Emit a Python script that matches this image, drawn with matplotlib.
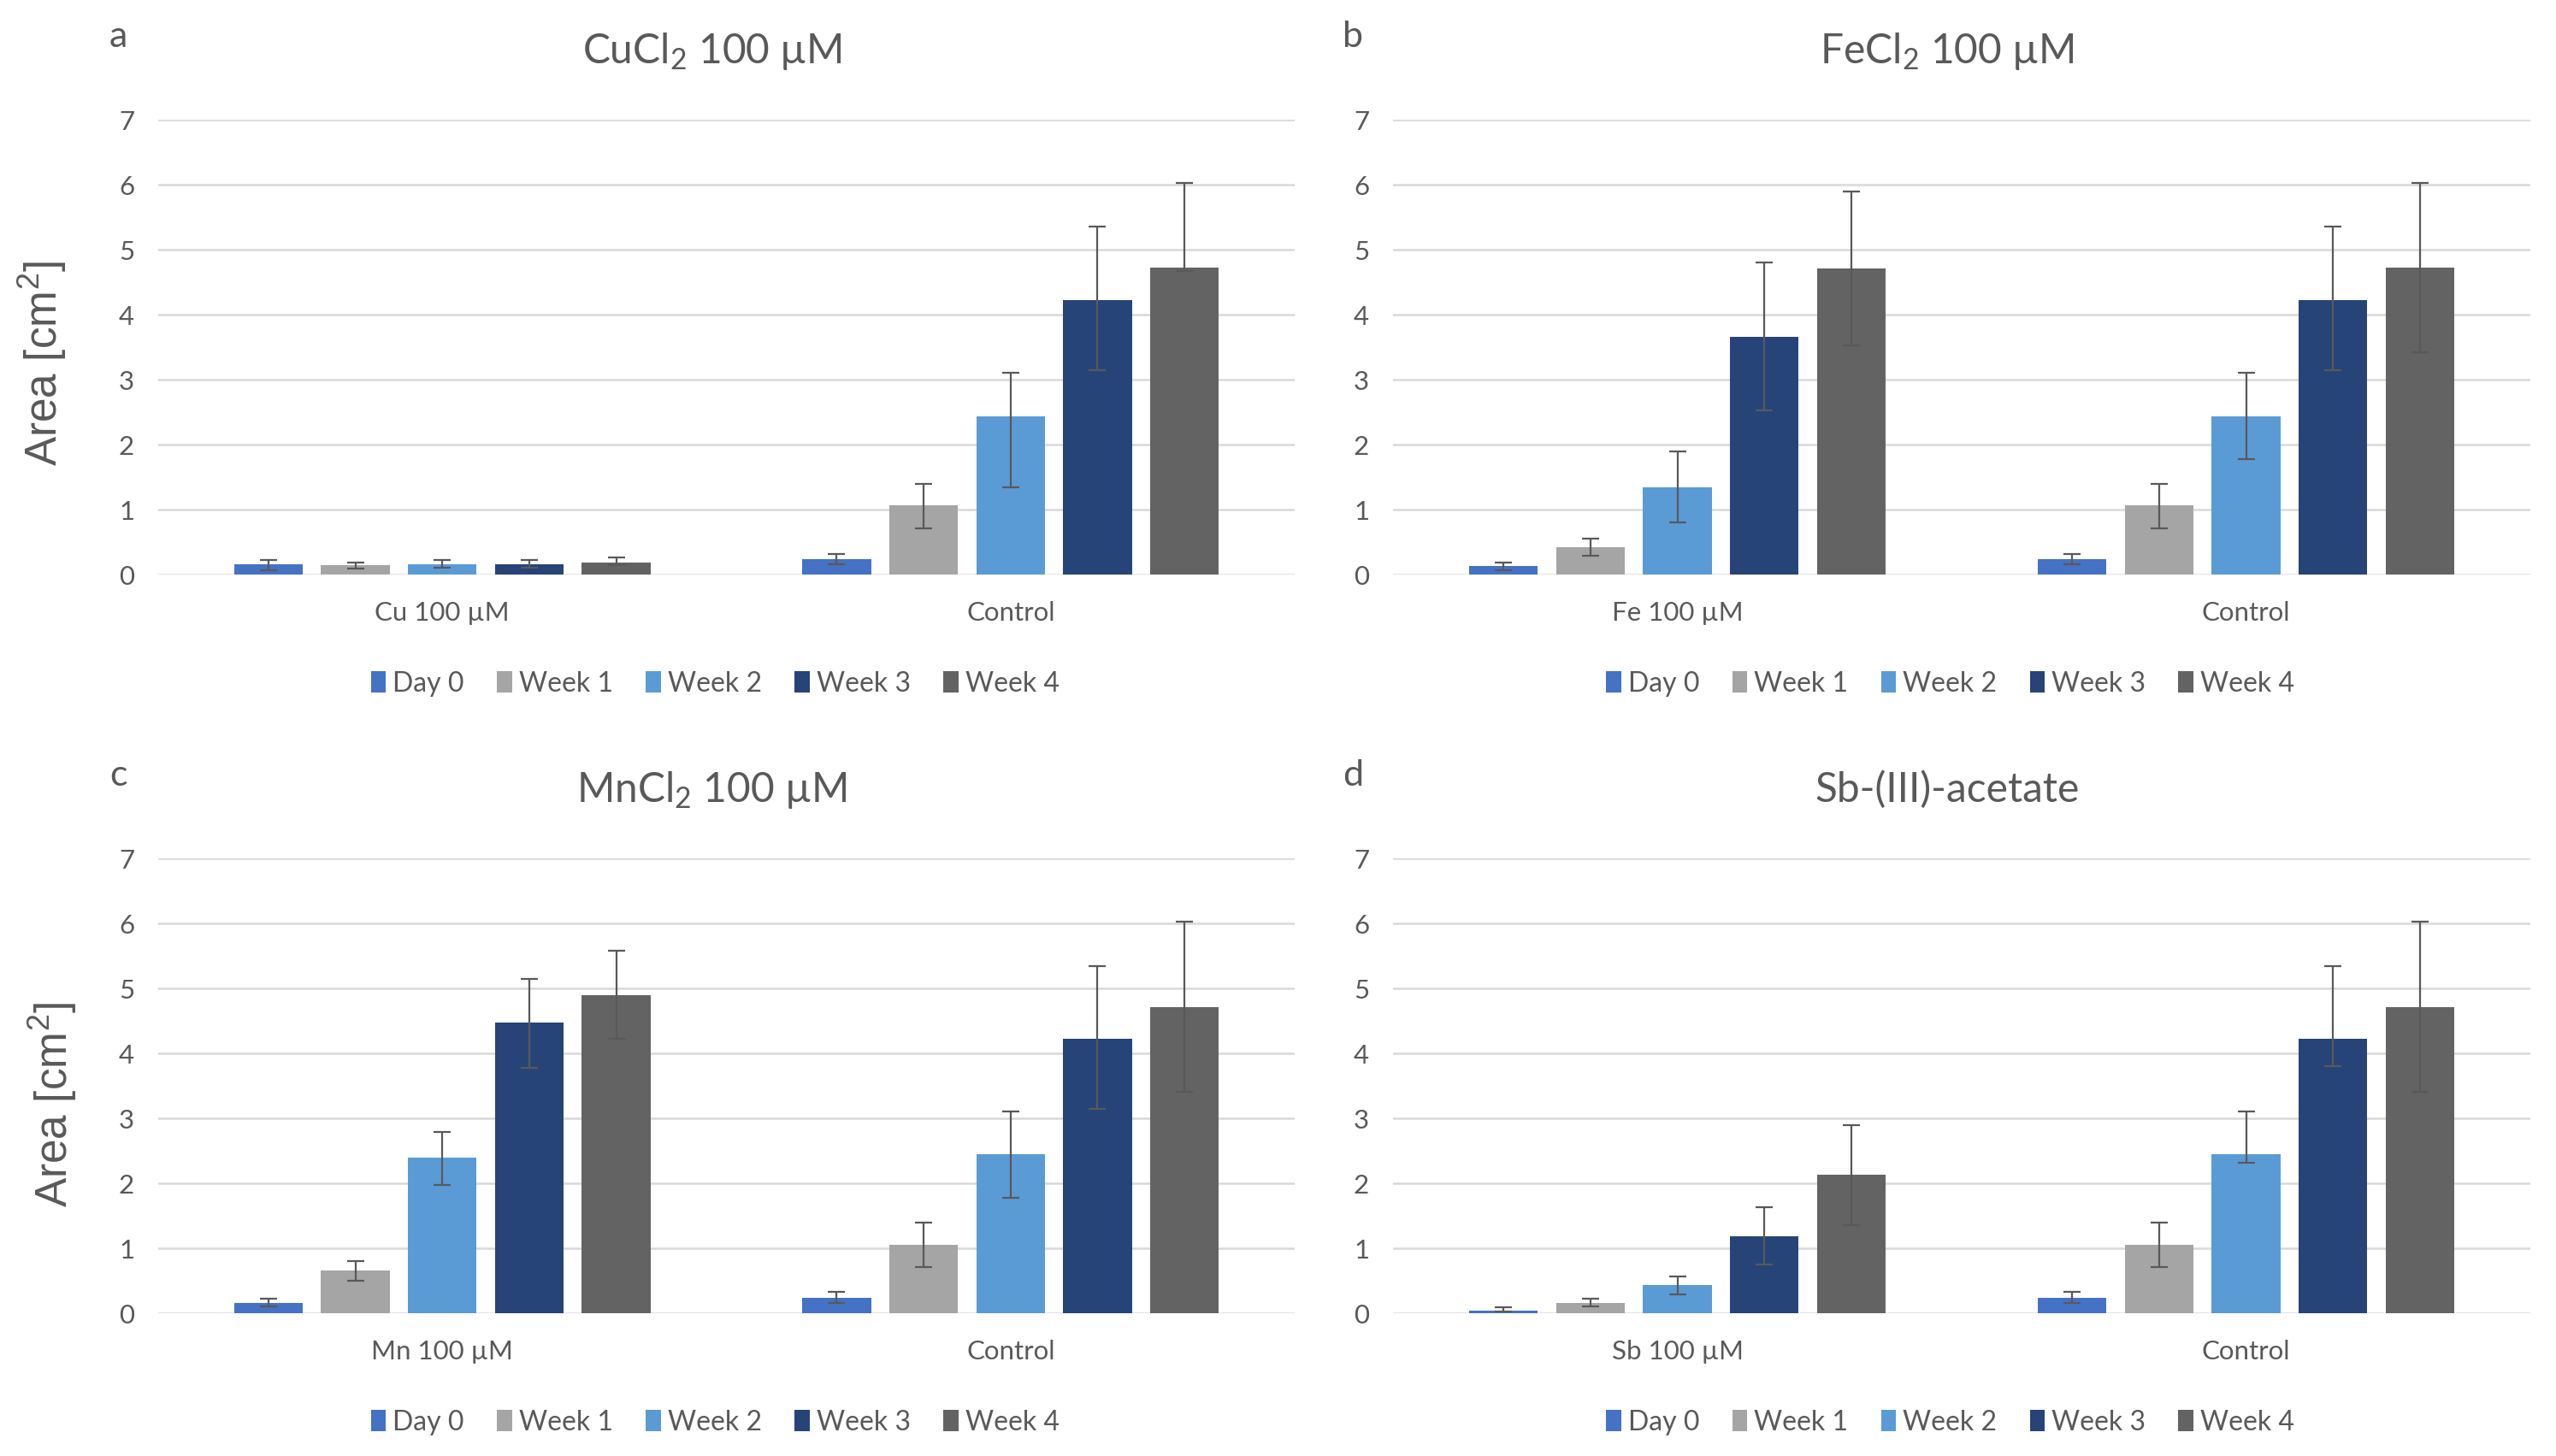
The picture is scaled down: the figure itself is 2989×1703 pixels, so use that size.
import numpy as np
import matplotlib
matplotlib.use("Agg")
import matplotlib.pyplot as plt

plt.rcParams['font.family'] = ['Lato', 'DejaVu Sans']
plt.rcParams['mathtext.default'] = 'regular'

series = ["Day 0", "Week 1", "Week 2", "Week 3", "Week 4"]
colors = ["#4472C4", "#A5A5A5", "#5B9BD5", "#264478", "#636363"]

letters = ["a", "b", "c", "d"]
titles = ["CuCl$_2$ 100 µM", "FeCl$_2$ 100 µM", "MnCl$_2$ 100 µM", "Sb-(III)-acetate"]
treatments = ["Cu 100 µM", "Fe 100 µM", "Mn 100 µM", "Sb 100 µM"]
control_name = "Control"

# means, lower and upper ends of error bars
cu_mean = [0.16, 0.14, 0.16, 0.16, 0.19]
cu_low = [0.07, 0.09, 0.10, 0.10, 0.15]
cu_high = [0.23, 0.19, 0.23, 0.22, 0.26]
ctl_a_mean = [0.24, 1.06, 2.43, 4.23, 4.72]
ctl_a_low = [0.16, 0.71, 1.34, 3.15, 4.67]
ctl_a_high = [0.32, 1.39, 3.10, 5.35, 6.03]

fe_mean = [0.13, 0.42, 1.34, 3.66, 4.71]
fe_low = [0.07, 0.29, 0.80, 2.53, 3.53]
fe_high = [0.19, 0.55, 1.89, 4.80, 5.89]
ctl_b_mean = [0.24, 1.06, 2.44, 4.23, 4.72]
ctl_b_low = [0.16, 0.71, 1.78, 3.15, 3.42]
ctl_b_high = [0.32, 1.39, 3.10, 5.35, 6.03]

mn_mean = [0.16, 0.66, 2.39, 4.47, 4.89]
mn_low = [0.11, 0.50, 1.97, 3.78, 4.23]
mn_high = [0.22, 0.80, 2.79, 5.15, 5.58]
ctl_c_mean = [0.24, 1.05, 2.45, 4.23, 4.71]
ctl_c_low = [0.16, 0.71, 1.78, 3.14, 3.41]
ctl_c_high = [0.33, 1.40, 3.11, 5.34, 6.02]

sb_mean = [0.04, 0.16, 0.43, 1.18, 2.13]
sb_low = [0.02, 0.11, 0.29, 0.75, 1.36]
sb_high = [0.09, 0.22, 0.57, 1.63, 2.90]
ctl_d_mean = [0.24, 1.05, 2.45, 4.23, 4.71]
ctl_d_low = [0.16, 0.71, 2.31, 3.80, 3.41]
ctl_d_high = [0.33, 1.40, 3.11, 5.34, 6.02]

panels = [
    (cu_mean, cu_low, cu_high, ctl_a_mean, ctl_a_low, ctl_a_high),
    (fe_mean, fe_low, fe_high, ctl_b_mean, ctl_b_low, ctl_b_high),
    (mn_mean, mn_low, mn_high, ctl_c_mean, ctl_c_low, ctl_c_high),
    (sb_mean, sb_low, sb_high, ctl_d_mean, ctl_d_low, ctl_d_high),
]

txt = "#595959"
W, H = 2989, 1703
fig = plt.figure(figsize=(W / 100, H / 100), dpi=100)

# axes boxes in pixels: left, top, right, bottom
boxes = [(185, 140, 1514, 672), (1629, 140, 2959, 672),
         (185, 1004, 1514, 1536), (1629, 1004, 2959, 1536)]

bar_w = 0.121
pitch = 0.153

for k, (box, data) in enumerate(zip(boxes, panels)):
    l, t, r, b = box
    ax = fig.add_axes([l / W, 1 - b / H, (r - l) / W, (b - t) / H])
    tm, tl, th, cm, cl, ch = data
    x = np.arange(2)
    for i in range(5):
        means = np.array([tm[i], cm[i]])
        lows = np.array([tl[i], cl[i]])
        highs = np.array([th[i], ch[i]])
        yerr = [means - lows, highs - means]
        ax.bar(x + (i - 2) * pitch, means, bar_w, color=colors[i], label=series[i],
               zorder=3, yerr=yerr,
               error_kw=dict(ecolor="#595959", elinewidth=1.6, capsize=7, capthick=1.6, zorder=4))
    ax.set_xlim(-0.5, 1.5)
    ax.set_ylim(0, 7)
    ax.set_yticks(range(8))
    ax.grid(axis="y", color="#D9D9D9", linewidth=1.8, zorder=0)
    for s in ax.spines.values():
        s.set_visible(False)
    ax.tick_params(axis="both", length=0, labelsize=22.5, colors=txt, pad=20)
    ax.tick_params(axis="x", pad=22)
    ax.set_xticks(x)
    ax.set_xticklabels([treatments[k], control_name])
    ax.legend(loc="upper center", bbox_to_anchor=(0.49, -0.158), ncol=5, frameon=False,
              fontsize=23, labelcolor=txt, handlelength=0.55, handleheight=0.8,
              handletextpad=0.25, columnspacing=1.2)

    # titles and panel letters
    fig.text((l + r) / 2 / W - 17 / W, 1 - (t - 80) / H, titles[k], ha="center", va="center",
             fontsize=34.5, color=txt)
    fig.text((l - 47) / W, 1 - (t - 97) / H, letters[k], ha="center", va="center",
             fontsize=31, color=txt)

for xl, yc in [(50, 425), (62, 1292)]:
    fig.text(xl / W, 1 - yc / H, "Area [cm$^2$]", rotation=90, ha="center",
             va="center", fontsize=37, color=txt, family="Liberation Sans")

fig.savefig("out.png", dpi=100, facecolor="white")
